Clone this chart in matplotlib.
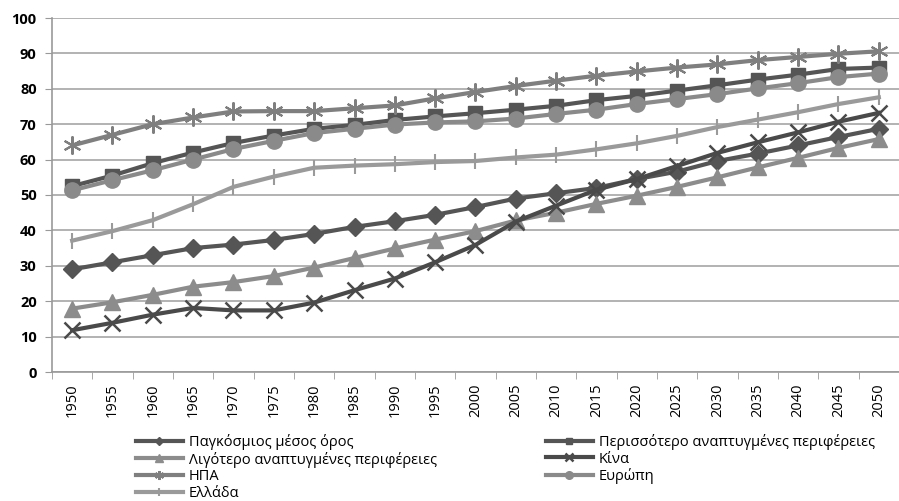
import matplotlib
matplotlib.use("Agg")
import matplotlib.pyplot as plt
import numpy as np

years = [1950, 1955, 1960, 1965, 1970, 1975, 1980, 1985, 1990, 1995, 2000,
         2005, 2010, 2015, 2020, 2025, 2030, 2035, 2040, 2045, 2050]

world = [29, 31, 33, 35, 36, 37.3, 39, 41, 42.6, 44.4, 46.6,
         49, 50.5, 52, 54.5, 56.6, 59.6, 61.7, 64, 66.4, 68.7]
more_dev = [52.5, 55.5, 59, 62, 64.7, 66.8, 68.7, 69.8, 71.2, 72.2, 73.1,
            74.1, 75.2, 76.8, 78, 79.5, 81, 82.6, 84, 85.6, 86]
less_dev = [17.9, 19.7, 21.8, 24.1, 25.4, 27.1, 29.5, 32.2, 34.9, 37.4, 39.8,
            42.8, 45, 47.5, 49.8, 52.3, 55, 57.8, 60.5, 63.3, 65.8]
china = [11.8, 13.9, 16.2, 18.1, 17.4, 17.4, 19.6, 23.1, 26.4, 31, 35.9,
         42.5, 47, 51.5, 54.5, 58.2, 61.9, 64.9, 67.7, 70.7, 73.2]
usa = [64, 67, 70, 71.9, 73.6, 73.7, 73.7, 74.5, 75.3, 77.3, 79.1,
       80.8, 82.3, 83.7, 84.9, 86, 86.9, 88.1, 89, 89.9, 90.6]
europe = [51.3, 54.2, 57, 60, 63, 65.3, 67.5, 68.7, 69.9, 70.5, 70.8,
          71.6, 72.9, 74.1, 75.7, 77.1, 78.5, 80.1, 81.6, 83.3, 84.3]
greece = [37.1, 39.8, 42.9, 47.4, 52.3, 55.2, 57.7, 58.3, 58.7, 59.3, 59.6,
          60.6, 61.4, 62.9, 64.6, 66.7, 69.2, 71.3, 73.4, 75.7, 77.6]

labels = ["Παγκόσμιος μέσος όρος", "Περισσότερο αναπτυγμένες περιφέρειες",
          "Λιγότερο αναπτυγμένες περιφέρειες", "Κίνα", "ΗΠΑ", "Ευρώπη", "Ελλάδα"]

plt.rcParams['font.family'] = ['Open Sans', 'DejaVu Sans']

fig = plt.figure(figsize=(8.99, 5.01), dpi=100)
ax = fig.add_axes([52 / 899, 129 / 501, 1 - 52 / 899, 354 / 501])

x = np.arange(len(years))
lw = 3
h_world, = ax.plot(x, world, color='#555555', lw=lw, marker='D', ms=9, zorder=3)
h_more, = ax.plot(x, more_dev, color='#555555', lw=lw, marker='s', ms=10, zorder=3)
h_less, = ax.plot(x, less_dev, color='#8c8c8c', lw=lw, marker='^', ms=11, zorder=3)
h_china, = ax.plot(x, china, color='#4a4a4a', lw=lw, marker='x', ms=11, mew=1.8, zorder=4)
h_usa, = ax.plot(x, usa, color='#7f7f7f', lw=lw, marker=(6, 2, 0), ms=13, mew=1.5, zorder=3)
h_eur, = ax.plot(x, europe, color='#8a8a8a', lw=lw, marker='o', ms=11, zorder=3)
h_gre, = ax.plot(x, greece, color='#9a9a9a', lw=lw, marker='|', ms=12, mew=1.5, zorder=3)

ax.set_ylim(0, 100)
ax.set_yticks(range(0, 101, 10))
ax.set_xlim(-0.5, len(years) - 0.65)
ax.set_xticks(x)
ax.set_xticklabels([str(y) for y in years], rotation=90)
ax.set_xticks(np.arange(-0.5, len(years), 1), minor=True)
ax.tick_params(axis='x', which='major', length=0, pad=8, labelsize=10.5)
ax.tick_params(axis='x', which='minor', length=5, color='#999999')
ax.tick_params(axis='y', length=5, color='#999999', labelsize=10.5, pad=6)
for lab in ax.get_yticklabels():
    lab.set_fontweight('bold')

ax.grid(axis='y', color='#a6a6a6', lw=1.2)
ax.set_axisbelow(True)
for s in ['top', 'right']:
    ax.spines[s].set_visible(False)
for s in ['left', 'bottom']:
    ax.spines[s].set_color('#999999')
    ax.spines[s].set_linewidth(1.2)

leg_kw = dict(loc='upper left', frameon=False, fontsize=10.5, handlelength=3.2,
              handletextpad=0.45, labelspacing=0.12, borderaxespad=0, markerscale=0.5)
fig.legend([h_world, h_less, h_usa, h_gre],
           [labels[0], labels[2], labels[4], labels[6]],
           bbox_to_anchor=(130 / 899, 1 - 428 / 501), **leg_kw)
fig.legend([h_more, h_china, h_eur],
           [labels[1], labels[3], labels[5]],
           bbox_to_anchor=(540 / 899, 1 - 428 / 501), **leg_kw)

fig.savefig('out.png', dpi=100)
